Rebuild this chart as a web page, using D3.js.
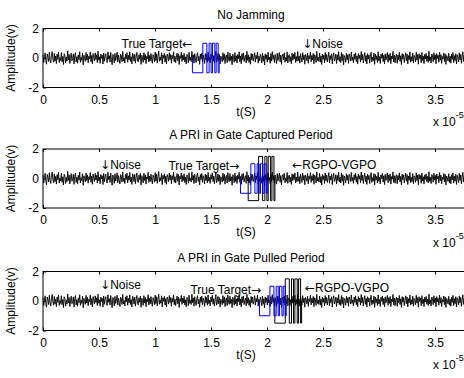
<!DOCTYPE html>
<html>
<head>
<meta charset="utf-8">
<script src="https://cdn.jsdelivr.net/npm/d3@7"></script>
<style>
  body { margin: 0; background: #fff; }
  text { font-family: "Liberation Sans", Arial, sans-serif; fill: #000; }
</style>
</head>
<body>
<div id="chart"></div>
<script>
// time axis in units of 1e-5 s
var xTicks = [0, 0.5, 1, 1.5, 2, 2.5, 3, 3.5]
var yTicks = [-2, 0, 2]
var titles = ['No Jamming', 'A PRI in Gate Captured Period', 'A PRI in Gate Pulled Period']

// receiver noise, one sample every dt
var dt = 0.0063
var noise = [
  0.22,-0.31,0.08,0.35,-0.18,-0.42,0.27,0.05,-0.24,0.39,-0.12,-0.33,0.19,0.44,-0.07,-0.28,0.31,-0.21,0.14,-0.38,
  0.26,-0.09,0.41,-0.30,0.03,-0.17,0.36,-0.25,0.11,-0.44,0.29,0.16,-0.34,0.07,-0.22,0.48,-0.13,0.24,-0.37,0.02,
  0.33,-0.19,-0.05,0.28,-0.40,0.15,0.37,-0.27,0.09,-0.35,0.21,-0.11,0.43,-0.29,0.06,-0.16,0.32,-0.46,0.18,0.01,
  -0.23,0.38,-0.14,0.25,-0.32,0.12,-0.06,0.40,-0.26,0.17,-0.39,0.30,0.04,-0.20,0.35,-0.10,0.22,-0.31,0.46,-0.15,
  0.08,-0.36,0.27,-0.03,0.19,-0.41,0.34,-0.22,0.13,0.29,-0.18,-0.30,0.42,-0.08,0.16,-0.27,0.37,-0.12,-0.45,0.24,
  0.10,-0.33,0.31,-0.17,0.05,0.39,-0.28,0.20,-0.09,-0.37,0.26,0.14,-0.24,0.45,-0.19,0.03,-0.34,0.28,-0.06,0.36,
  -0.29,0.18,-0.12,0.41,-0.23,0.09,-0.40,0.32,0.15,-0.21,0.27,-0.35,0.06,0.38,-0.16,-0.26,0.22,-0.08,0.34,-0.43,
  0.19,0.02,-0.30,0.36,-0.14,0.25,-0.38,0.11,-0.04,0.43,-0.27,0.17,-0.20,0.30,-0.11,-0.36,0.23,0.07,-0.25,0.40,
  -0.18,0.29,-0.33,0.12,0.47,-0.22,0.06,-0.15,0.35,-0.41,0.21,-0.02,0.31,-0.28,0.16,-0.39,0.26,0.09,-0.21,0.37,
  -0.10,0.24,-0.36,0.18,-0.07,0.42,-0.25,0.13,-0.31,0.05,0.33,-0.19,0.28,-0.44,0.15,-0.03,0.38,-0.23,0.20,-0.13,
  0.32,-0.27,0.08,-0.40,0.25,0.14,-0.32,0.39,-0.16,0.04,-0.24,0.45,-0.11,0.21,-0.35,0.29,-0.06,-0.30,0.17,0.36,
  -0.20,0.11,-0.43,0.27,-0.09,0.34,-0.26,0.19,0.03,-0.37,0.30,-0.14,0.23,-0.29,0.41,-0.18,0.07,-0.33,0.26,-0.05,
  0.38,-0.22,0.16,-0.35,0.10,0.44,-0.28,-0.12,0.31,-0.19,0.24,-0.41,0.13,0.02,-0.25,0.36,-0.15,0.28,-0.38,0.09,
  0.21,-0.31,0.40,-0.08,-0.23,0.33,-0.17,0.12,-0.45,0.26,0.06,-0.29,0.37,-0.20,0.15,-0.34,0.23,-0.04,0.42,-0.26,
  0.14,-0.39,0.29,-0.11,0.35,-0.24,0.05,0.19,-0.33,0.46,-0.16,0.22,-0.30,0.08,-0.42,0.31,-0.13,0.27,-0.21,0.03,
  0.36,-0.28,0.17,-0.06,0.40,-0.35,0.12,-0.19,0.25,0.08,-0.32,0.34,-0.22,0.15,-0.47,0.28,-0.10,0.21,-0.27,0.39,
  -0.14,0.06,-0.36,0.30,-0.21,0.43,-0.09,0.18,-0.31,0.24,-0.02,-0.38,0.33,-0.17,0.11,0.37,-0.26,0.20,-0.43,0.13,
  0.27,-0.12,0.35,-0.29,0.04,-0.20,0.41,-0.33,0.16,0.23,-0.25,0.09,-0.40,0.32,-0.15,0.26,-0.07,0.38,-0.30,0.10,
  -0.22,0.44,-0.18,0.13,-0.35,0.29,0.01,-0.27,0.36,-0.11,0.20,-0.42,0.24,0.07,-0.19,0.33,-0.36,0.15,-0.05,0.40,
  -0.26,0.18,-0.13,0.31,-0.39,0.22,0.10,-0.30,0.45,-0.17,0.06,-0.23,0.34,-0.28,0.14,-0.44,0.27,-0.08,0.19,-0.34,
  0.37,-0.15,0.23,-0.27,0.05,0.40,-0.32,0.16,-0.10,0.29,-0.41,0.12,0.35,-0.20,-0.06,0.26,-0.37,0.21,-0.14,0.43,
  -0.24,0.09,-0.31,0.38,-0.18,0.25,-0.46,0.17,0.03,-0.29,0.32,-0.12,0.22,-0.36,0.28,0.11,-0.21,0.41,-0.16,0.07,
  -0.33,0.26,-0.09,0.35,-0.25,0.14,-0.39,0.30,-0.04,0.19,-0.28,0.44,-0.13,0.24,-0.34,0.08,0.36,-0.22,0.17,-0.40,
  0.29,-0.07,0.21,-0.35,0.12,0.39,-0.26,0.05,-0.18,0.33,-0.43,0.27,-0.11,0.15,-0.30,0.42,-0.20,0.10,-0.37,0.25,
  -0.02,0.34,-0.24,0.18,-0.41,0.28,-0.13,0.07,0.37,-0.29,0.22,-0.16,0.31,-0.38,0.13,-0.05,0.45,-0.27,0.19,-0.32,
  0.11,0.26,-0.36,0.20,-0.10,0.38,-0.23,0.15,-0.44,0.30,-0.08,0.24,-0.31,0.04,0.35,-0.19,0.27,-0.40,0.16,-0.12,
  0.41,-0.28,0.09,-0.21,0.33,-0.35,0.18,0.06,-0.26,0.39,-0.14,0.23,-0.42,0.29,-0.03,0.20,-0.33,0.37,-0.17,0.12,
  -0.38,0.25,-0.06,0.31,-0.22,0.14,-0.30,0.46,-0.19,0.08,-0.34,0.27,0.16,-0.25,0.36,-0.11,0.21,-0.39,0.30,-0.04,
  0.18,-0.29,0.40,-0.15,0.23,-0.37,0.10,-0.07,0.34,-0.24,0.28,-0.43,0.17,0.05,-0.20,0.32,-0.28,0.13,-0.35,0.26,
  -0.09,0.38,-0.31,0.16,-0.18,0.29,-0.40,0.22,0.03,-0.27,0.35,-0.13,0.24,-0.36,0.11,0.42,-0.23,0.19,-0.30,0.14
]

// coded pulse: switching times after pulse start, and level held after each switch
var pulseEdges = [0, 0.093, 0.129, 0.149, 0.167, 0.179, 0.200, 0.212, 0.230, 0.239]
var pulseLevels = [-1, 1, -1, 1, -1, 1, -1, 1, -1]
var targetStart = [1.334, 1.763, 1.933]
var jammerStart = [null, 1.832, 2.07]
var jammerAmp = 1.5

// annotations in data coords [panel, text, t, v, anchor]
var notes = [
  [0, 'True Target\u2190', 1.333, 1.0, 'end'],
  [0, '\u2193Noise', 2.315, 1.0, 'start'],
  [1, '\u2193Noise', 0.51, 0.93, 'start'],
  [1, 'True Target\u2192', 1.752, 0.9, 'end'],
  [1, '\u2190RGPO-VGPO', 2.225, 0.93, 'start'],
  [2, '\u2193Noise', 0.51, 1.09, 'start'],
  [2, 'True Target\u2192', 1.948, 0.76, 'end'],
  [2, '\u2190RGPO-VGPO', 2.339, 0.87, 'start']
]

var W = 464, H = 378
var left = 43
var panelTop = [28.5, 149, 271.5]
var panelH = 59
var fs = 12

var svg = d3.select('#chart').append('svg')
  .attr('width', W)
  .attr('height', H)

var x = d3.scaleLinear().domain([0, 3.5]).range([left, 435])
var plotRight = x(3.8)

function pulsePoints(start, amp) {
  var pts = [[start, 0]]
  for (var i = 0; i < pulseLevels.length; i++) {
    pts.push([start + pulseEdges[i], pulseLevels[i] * amp])
  }
  pts.push([start + pulseEdges[pulseEdges.length - 1], 0])
  return pts
}

function drawPanel(p) {
  var y0 = panelTop[p]
  var y1 = y0 + panelH
  var y = d3.scaleLinear().domain([-2, 2]).range([y1, y0])
  var g = svg.append('g')

  // noise
  var line = d3.line()
    .x(function (d, i) { return x(i * dt) })
    .y(function (d) { return y(d) })
  g.append('path')
    .datum(noise)
    .attr('d', line)
    .attr('fill', 'none')
    .attr('stroke', '#000')
    .attr('stroke-width', 0.9)

  var step = d3.line()
    .x(function (d) { return x(d[0]) })
    .y(function (d) { return y(d[1]) })
    .curve(d3.curveStepAfter)

  if (jammerStart[p] !== null) {
    g.append('path')
      .datum(pulsePoints(jammerStart[p], jammerAmp))
      .attr('d', step)
      .attr('fill', 'none')
      .attr('stroke', '#000')
      .attr('stroke-width', 1)
  }

  g.append('path')
    .datum(pulsePoints(targetStart[p], 1))
    .attr('d', step)
    .attr('fill', 'none')
    .attr('stroke', '#0000ff')
    .attr('stroke-width', 1)

  // axes, ticks pointing inward
  g.append('g')
    .attr('transform', 'translate(0,' + y1 + ')')
    .call(d3.axisBottom(x).tickValues(xTicks).tickSizeInner(-3).tickSizeOuter(0).tickPadding(7.5)
      .tickFormat(function (d) { return String(d) }))
  g.append('g')
    .attr('transform', 'translate(0,' + y0 + ')')
    .call(d3.axisTop(x).tickValues(xTicks).tickSizeInner(-3).tickSizeOuter(0).tickFormat(''))
  g.append('g')
    .attr('transform', 'translate(' + left + ',0)')
    .call(d3.axisLeft(y).tickValues(yTicks).tickSizeInner(-3).tickSizeOuter(0).tickPadding(4)
      .tickFormat(function (d) { return String(d) }))

  g.selectAll('.domain').remove()
  g.selectAll('.tick line').attr('stroke', '#000')
  g.selectAll('.tick text')
    .style('font-size', fs + 'px')
    .style('font-family', '"Liberation Sans", Arial, sans-serif')
    .attr('fill', '#000')

  g.append('rect')
    .attr('x', left)
    .attr('y', y0)
    .attr('width', plotRight - left)
    .attr('height', panelH)
    .attr('fill', 'none')
    .attr('stroke', '#000')
    .attr('stroke-width', 1)

  g.append('text')
    .text(titles[p])
    .attr('x', 251)
    .attr('y', y0 - 10)
    .attr('text-anchor', 'middle')
    .style('font-size', fs + 'px')

  g.append('text')
    .text('t(S)')
    .attr('x', 246)
    .attr('y', y1 + 28)
    .attr('text-anchor', 'middle')
    .style('font-size', fs + 'px')

  var ex = g.append('text')
    .attr('x', 433)
    .attr('y', y1 + 38.5)
    .style('font-size', fs + 'px')
  ex.append('tspan').text('x 10')
  ex.append('tspan').text('-5').attr('dy', -8).style('font-size', '9px')

  g.append('text')
    .text('Amplitude(v)')
    .attr('transform', 'translate(15,' + (y0 + panelH / 2) + ') rotate(-90)')
    .attr('text-anchor', 'middle')
    .style('font-size', fs + 'px')

  notes.filter(function (n) { return n[0] === p }).forEach(function (n) {
    var t = g.append('text')
      .attr('x', x(n[2]))
      .attr('y', y(n[3]))
      .attr('dy', '0.36em')
      .attr('text-anchor', n[4])
      .style('font-size', fs + 'px')
    // arrows drawn with DejaVu so they are as wide as the TeX arrows
    n[1].split(/([\u2190-\u2193])/).forEach(function (part) {
      if (!part) return
      var ts = t.append('tspan').text(part)
      if (/[\u2190-\u2193]/.test(part)) ts.style('font-family', '"DejaVu Sans", sans-serif')
    })
  })
}

for (var p = 0; p < 3; p++) drawPanel(p)
</script>
</body>
</html>
